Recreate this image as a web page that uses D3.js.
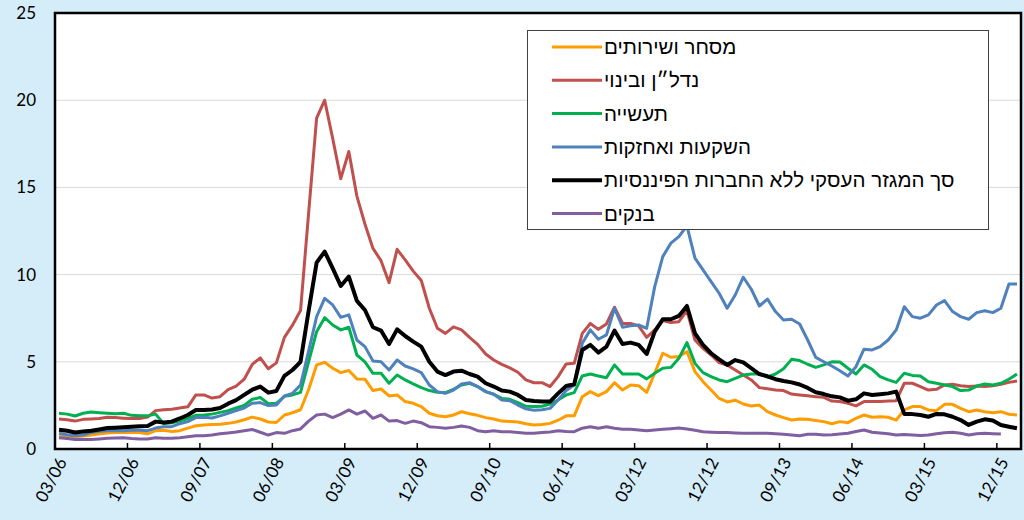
<!DOCTYPE html>
<html>
<head>
<meta charset="utf-8">
<script src="https://cdn.jsdelivr.net/npm/d3@7"></script>
<style>
  html, body { margin: 0; padding: 0; background: #d5ecf9; }
  svg { display: block; }
</style>
</head>
<body>
<svg id="chart" width="1024" height="520"></svg>
<script>
// ערכים חודשיים 03/06 – 02/16
const tickLabels = ['03/06', '12/06', '09/07', '06/08', '03/09', '12/09', '09/10', '06/11', '03/12', '12/12', '09/13', '06/14', '03/15', '12/15'];

const seriesNames = ['מסחר ושירותים', 'נדל״ן ובינוי', 'תעשייה', 'השקעות ואחזקות', 'סך המגזר העסקי ללא החברות הפיננסיות', 'בנקים'];

const trade = [
  0.75, 0.72, 0.7, 0.75, 0.8, 0.87, 0.92, 0.95, 0.95, 0.95, 0.95, 0.87, 1.05, 1.08, 1.0, 1.05, 1.2, 1.33, 1.38, 1.4,
  1.42, 1.47, 1.55, 1.68, 1.83, 1.72, 1.55, 1.52, 1.95, 2.08, 2.25, 3.4, 4.82, 4.97, 4.63, 4.38, 4.5, 4.02, 4.0, 3.35,
  3.44, 3.04, 3.1, 2.72, 2.62, 2.43, 2.05, 1.91, 1.85, 1.95, 2.14, 2.02, 1.93, 1.8, 1.72, 1.6, 1.58, 1.55, 1.45, 1.38,
  1.4, 1.47, 1.65, 1.9, 1.9, 3.0, 3.29, 3.06, 3.29, 3.8, 3.38, 3.67, 3.63, 3.25, 4.35, 5.49, 5.26, 5.3, 5.58, 4.44,
  3.86, 3.38, 2.9, 2.7, 2.8, 2.58, 2.47, 2.52, 2.14, 1.95, 1.8, 1.66, 1.72, 1.7, 1.63, 1.57, 1.45, 1.57, 1.51, 1.76,
  1.95, 1.82, 1.85, 1.82, 1.66, 2.24, 2.43, 2.43, 2.24, 2.2, 2.56, 2.56, 2.33, 2.14, 2.24, 2.14, 2.08, 2.14, 1.99, 1.95
];

const realEstate = [
  1.72, 1.68, 1.6, 1.7, 1.72, 1.75, 1.82, 1.8, 1.77, 1.75, 1.75, 1.83, 2.2, 2.25, 2.28, 2.35, 2.42, 3.1, 3.1, 2.92,
  3.0, 3.4, 3.6, 4.0, 4.85, 5.23, 4.6, 4.94, 6.4, 7.1, 7.94, 13.5, 18.97, 20.0, 17.8, 15.5, 17.06, 14.5, 12.9, 11.5,
  10.8, 9.54, 11.45, 10.84, 10.2, 9.66, 8.07, 6.92, 6.63, 7.0, 6.83, 6.4, 6.0, 5.45, 5.1, 4.85, 4.65, 4.4, 3.96, 3.8,
  3.8, 3.58, 4.15, 4.88, 4.91, 6.63, 7.2, 6.86, 7.17, 8.13, 7.2, 7.2, 7.06, 6.4, 6.83, 7.36, 7.25, 7.3, 7.93, 6.25,
  5.77, 5.39, 4.95, 4.82, 4.53, 4.24, 3.96, 3.52, 3.45, 3.38, 3.35, 3.15, 3.1, 3.05, 3.0, 2.96, 2.75, 2.72, 2.62, 2.47,
  2.72, 2.72, 2.72, 2.75, 2.77, 3.77, 3.77, 3.58, 3.38, 3.42, 3.67, 3.71, 3.63, 3.58, 3.61, 3.58, 3.63, 3.71, 3.82, 3.9
];

const industry = [
  2.05, 2.0, 1.89, 2.05, 2.12, 2.08, 2.05, 2.02, 2.05, 1.93, 1.9, 1.9, 2.0, 1.45, 1.5, 1.6, 1.75, 1.93, 1.95, 2.0,
  2.1, 2.2, 2.35, 2.5, 2.85, 2.95, 2.6, 2.62, 3.02, 3.1, 3.25, 5.0, 6.73, 7.53, 7.11, 6.83, 6.98, 5.39, 5.0, 4.34,
  4.34, 3.77, 4.24, 3.96, 3.73, 3.52, 3.35, 3.25, 3.23, 3.42, 3.67, 3.77, 3.58, 3.29, 3.14, 2.9, 2.85, 2.66, 2.45, 2.43,
  2.45, 2.58, 2.81, 3.1, 3.23, 4.19, 4.3, 4.19, 4.09, 4.82, 4.3, 4.3, 4.3, 4.02, 4.34, 4.63, 4.68, 5.2, 6.1, 4.91,
  4.38, 4.15, 3.96, 3.86, 4.05, 4.24, 4.3, 4.3, 4.13, 4.3, 4.6, 5.14, 5.07, 4.86, 4.68, 4.82, 5.0, 4.99, 4.63, 4.3,
  4.82, 4.57, 4.15, 3.96, 3.82, 4.34, 4.22, 4.19, 3.86, 3.77, 3.67, 3.58, 3.35, 3.38, 3.61, 3.73, 3.67, 3.77, 4.0, 4.3
];

const investments = [
  0.9, 0.82, 0.76, 0.8, 0.95, 1.02, 1.05, 1.05, 1.05, 1.07, 1.07, 1.05, 1.2, 1.28, 1.28, 1.45, 1.57, 1.8, 1.82, 1.78,
  1.9, 2.05, 2.2, 2.35, 2.62, 2.66, 2.49, 2.52, 3.04, 3.19, 3.67, 5.6, 7.59, 8.64, 8.26, 7.55, 7.69, 6.25, 5.87, 5.05,
  5.0, 4.53, 5.1, 4.76, 4.59, 4.38, 3.67, 3.29, 3.19, 3.38, 3.73, 3.8, 3.58, 3.29, 3.14, 2.81, 2.77, 2.52, 2.3, 2.22,
  2.25, 2.33, 2.81, 3.35, 3.67, 6.06, 6.83, 6.29, 6.54, 8.07, 6.98, 7.06, 7.11, 6.92, 9.31, 11.03, 11.8, 12.18, 12.8, 10.94,
  10.27, 9.6, 8.93, 8.07, 8.83, 9.85, 9.16, 8.2, 8.6, 7.88, 7.4, 7.44, 7.17, 6.25, 5.25, 5.0, 4.76, 4.49, 4.19, 4.72,
  5.72, 5.68, 5.87, 6.25, 6.83, 8.16, 7.59, 7.5, 7.69, 8.26, 8.51, 7.88, 7.59, 7.44, 7.82, 7.93, 7.82, 8.07, 9.46, 9.46
];

const totalBusiness = [
  1.1, 1.05, 0.95, 1.0, 1.05, 1.12, 1.2, 1.22, 1.25, 1.28, 1.3, 1.32, 1.57, 1.52, 1.57, 1.75, 1.95, 2.24, 2.24, 2.26,
  2.35, 2.6, 2.8, 3.1, 3.4, 3.58, 3.23, 3.33, 4.19, 4.53, 5.0, 7.9, 10.69, 11.32, 10.36, 9.35, 9.89, 8.49, 7.97, 6.98,
  6.79, 6.02, 6.86, 6.48, 6.16, 5.87, 5.0, 4.44, 4.24, 4.44, 4.49, 4.3, 4.15, 3.77, 3.58, 3.35, 3.29, 3.1, 2.81, 2.75,
  2.73, 2.72, 3.19, 3.61, 3.71, 5.68, 5.97, 5.53, 5.87, 6.79, 6.02, 6.1, 5.97, 5.45, 6.73, 7.44, 7.44, 7.63, 8.2, 6.63,
  5.97, 5.49, 5.14, 4.82, 5.1, 4.97, 4.63, 4.3, 4.17, 4.0, 3.9, 3.82, 3.7, 3.5, 3.25, 3.15, 3.02, 2.96, 2.77, 2.85,
  3.19, 3.1, 3.14, 3.19, 3.29, 2.01, 2.0, 1.95, 1.85, 2.01, 1.99, 1.85, 1.66, 1.38, 1.57, 1.7, 1.63, 1.38, 1.28, 1.19
];

const banks = [
  0.65, 0.6, 0.55, 0.55, 0.55, 0.58, 0.61, 0.63, 0.65, 0.6, 0.58, 0.57, 0.65, 0.61, 0.62, 0.65, 0.7, 0.76, 0.76, 0.8,
  0.88, 0.92, 0.97, 1.05, 1.12, 0.96, 0.8, 0.94, 0.9, 1.05, 1.15, 1.6, 1.95, 2.0, 1.8, 2.0, 2.24, 2.0, 2.18, 1.76,
  1.95, 1.6, 1.63, 1.47, 1.6, 1.51, 1.28, 1.24, 1.19, 1.24, 1.32, 1.24, 1.05, 0.99, 1.05, 0.99, 0.99, 0.94, 0.9, 0.9,
  0.94, 0.98, 1.05, 1.0, 0.99, 1.19, 1.28, 1.19, 1.28, 1.19, 1.13, 1.13, 1.09, 1.05, 1.09, 1.13, 1.16, 1.2, 1.15, 1.07,
  0.99, 0.96, 0.94, 0.94, 0.92, 0.9, 0.9, 0.9, 0.9, 0.87, 0.84, 0.8, 0.76, 0.84, 0.84, 0.8, 0.82, 0.86, 0.9, 1.0,
  1.09, 0.96, 0.92, 0.88, 0.8, 0.83, 0.8, 0.78, 0.8, 0.88, 0.93, 0.96, 0.9, 0.8, 0.88, 0.9, 0.88, 0.86, null, null
];

const seriesValues = [trade, realEstate, industry, investments, totalBusiness, banks];
const seriesColors = ['#ff9c00', '#c0504d', '#00b050', '#4f81bd', '#000000', '#7f5fa0'];
const seriesWidths = [3, 3, 3, 3, 4, 3];

const fmt = d3.timeFormat('%m/%y');
const months = d3.timeMonth.range(new Date(2006, 2, 1), new Date(2016, 2, 1)).map(fmt);

const svg = d3.select('#chart');
const plot = { left: 55, right: 1021, top: 13, bottom: 449 };

const x = d3.scaleBand().domain(months).range([plot.left, plot.right]).padding(0);
const y = d3.scaleLinear().domain([0, 25]).range([plot.bottom, plot.top]);

svg.append('rect')
  .attr('width', 1024).attr('height', 520)
  .attr('fill', '#d5ecf9');

svg.append('rect')
  .attr('x', plot.left).attr('y', plot.top)
  .attr('width', plot.right - plot.left).attr('height', plot.bottom - plot.top)
  .attr('fill', '#ffffff');

// קווי רשת
svg.append('g')
  .selectAll('line')
  .data([5, 10, 15, 20])
  .join('line')
    .attr('x1', plot.left).attr('x2', plot.right)
    .attr('y1', d => y(d)).attr('y2', d => y(d))
    .attr('stroke', '#d9d9d9').attr('stroke-width', 1);

// ציר Y
const yAxis = svg.append('g')
  .attr('transform', `translate(${plot.left},0)`)
  .call(d3.axisLeft(y).tickValues([0, 5, 10, 15, 20, 25]).tickSize(0).tickPadding(19));
yAxis.select('.domain').remove();
yAxis.selectAll('text')
  .attr('font-family', 'Lato, "Open Sans", sans-serif')
  .attr('font-size', 17)
  .attr('fill', '#000');

// ציר X
const xAxis = svg.append('g');
xAxis.selectAll('line')
  .data(tickLabels)
  .join('line')
    .attr('x1', d => x(d)).attr('x2', d => x(d))
    .attr('y1', plot.bottom).attr('y2', plot.bottom - 6)
    .attr('stroke', '#000').attr('stroke-width', 1.5);
xAxis.selectAll('text')
  .data(tickLabels)
  .join('text')
    .attr('transform', d => `translate(${x(d) + 7},${plot.bottom + 10}) rotate(-62)`)
    .attr('text-anchor', 'end')
    .attr('dy', '0.35em')
    .attr('font-family', 'Lato, "Open Sans", sans-serif')
    .attr('font-size', 17)
    .attr('fill', '#000')
    .text(d => d);

// קווים
const line = d3.line()
  .defined(d => d != null)
  .x((d, i) => x(months[i]) + x.bandwidth() / 2)
  .y(d => y(d))
  .curve(d3.curveLinear);

svg.append('g')
  .selectAll('path')
  .data(seriesValues)
  .join('path')
    .attr('d', d => line(d))
    .attr('fill', 'none')
    .attr('stroke', (d, i) => seriesColors[i])
    .attr('stroke-width', (d, i) => seriesWidths[i])
    .attr('stroke-linejoin', 'round');

// מסגרת
svg.append('rect')
  .attr('x', plot.left).attr('y', plot.top)
  .attr('width', plot.right - plot.left).attr('height', plot.bottom - plot.top)
  .attr('fill', 'none')
  .attr('stroke', '#000').attr('stroke-width', 2.5);

// מקרא
const legend = svg.append('g');
legend.append('rect')
  .attr('x', 527.5).attr('y', 30.5)
  .attr('width', 461).attr('height', 199)
  .attr('fill', '#ffffff')
  .attr('stroke', '#404040').attr('stroke-width', 1);

const items = legend.selectAll('g.item')
  .data(seriesNames)
  .join('g')
    .attr('class', 'item')
    .attr('transform', (d, i) => `translate(552,${47 + i * 33.3})`);

items.append('line')
  .attr('x1', 0).attr('x2', 50)
  .attr('stroke', (d, i) => seriesColors[i])
  .attr('stroke-width', (d, i) => seriesWidths[i]);

items.append('text')
  .attr('x', 52)
  .attr('dy', '0.35em')
  .attr('font-family', '"Liberation Sans", Arial, sans-serif')
  .attr('font-size', 20.5)
  .attr('fill', '#000')
  .text(d => d);
</script>
</body>
</html>
